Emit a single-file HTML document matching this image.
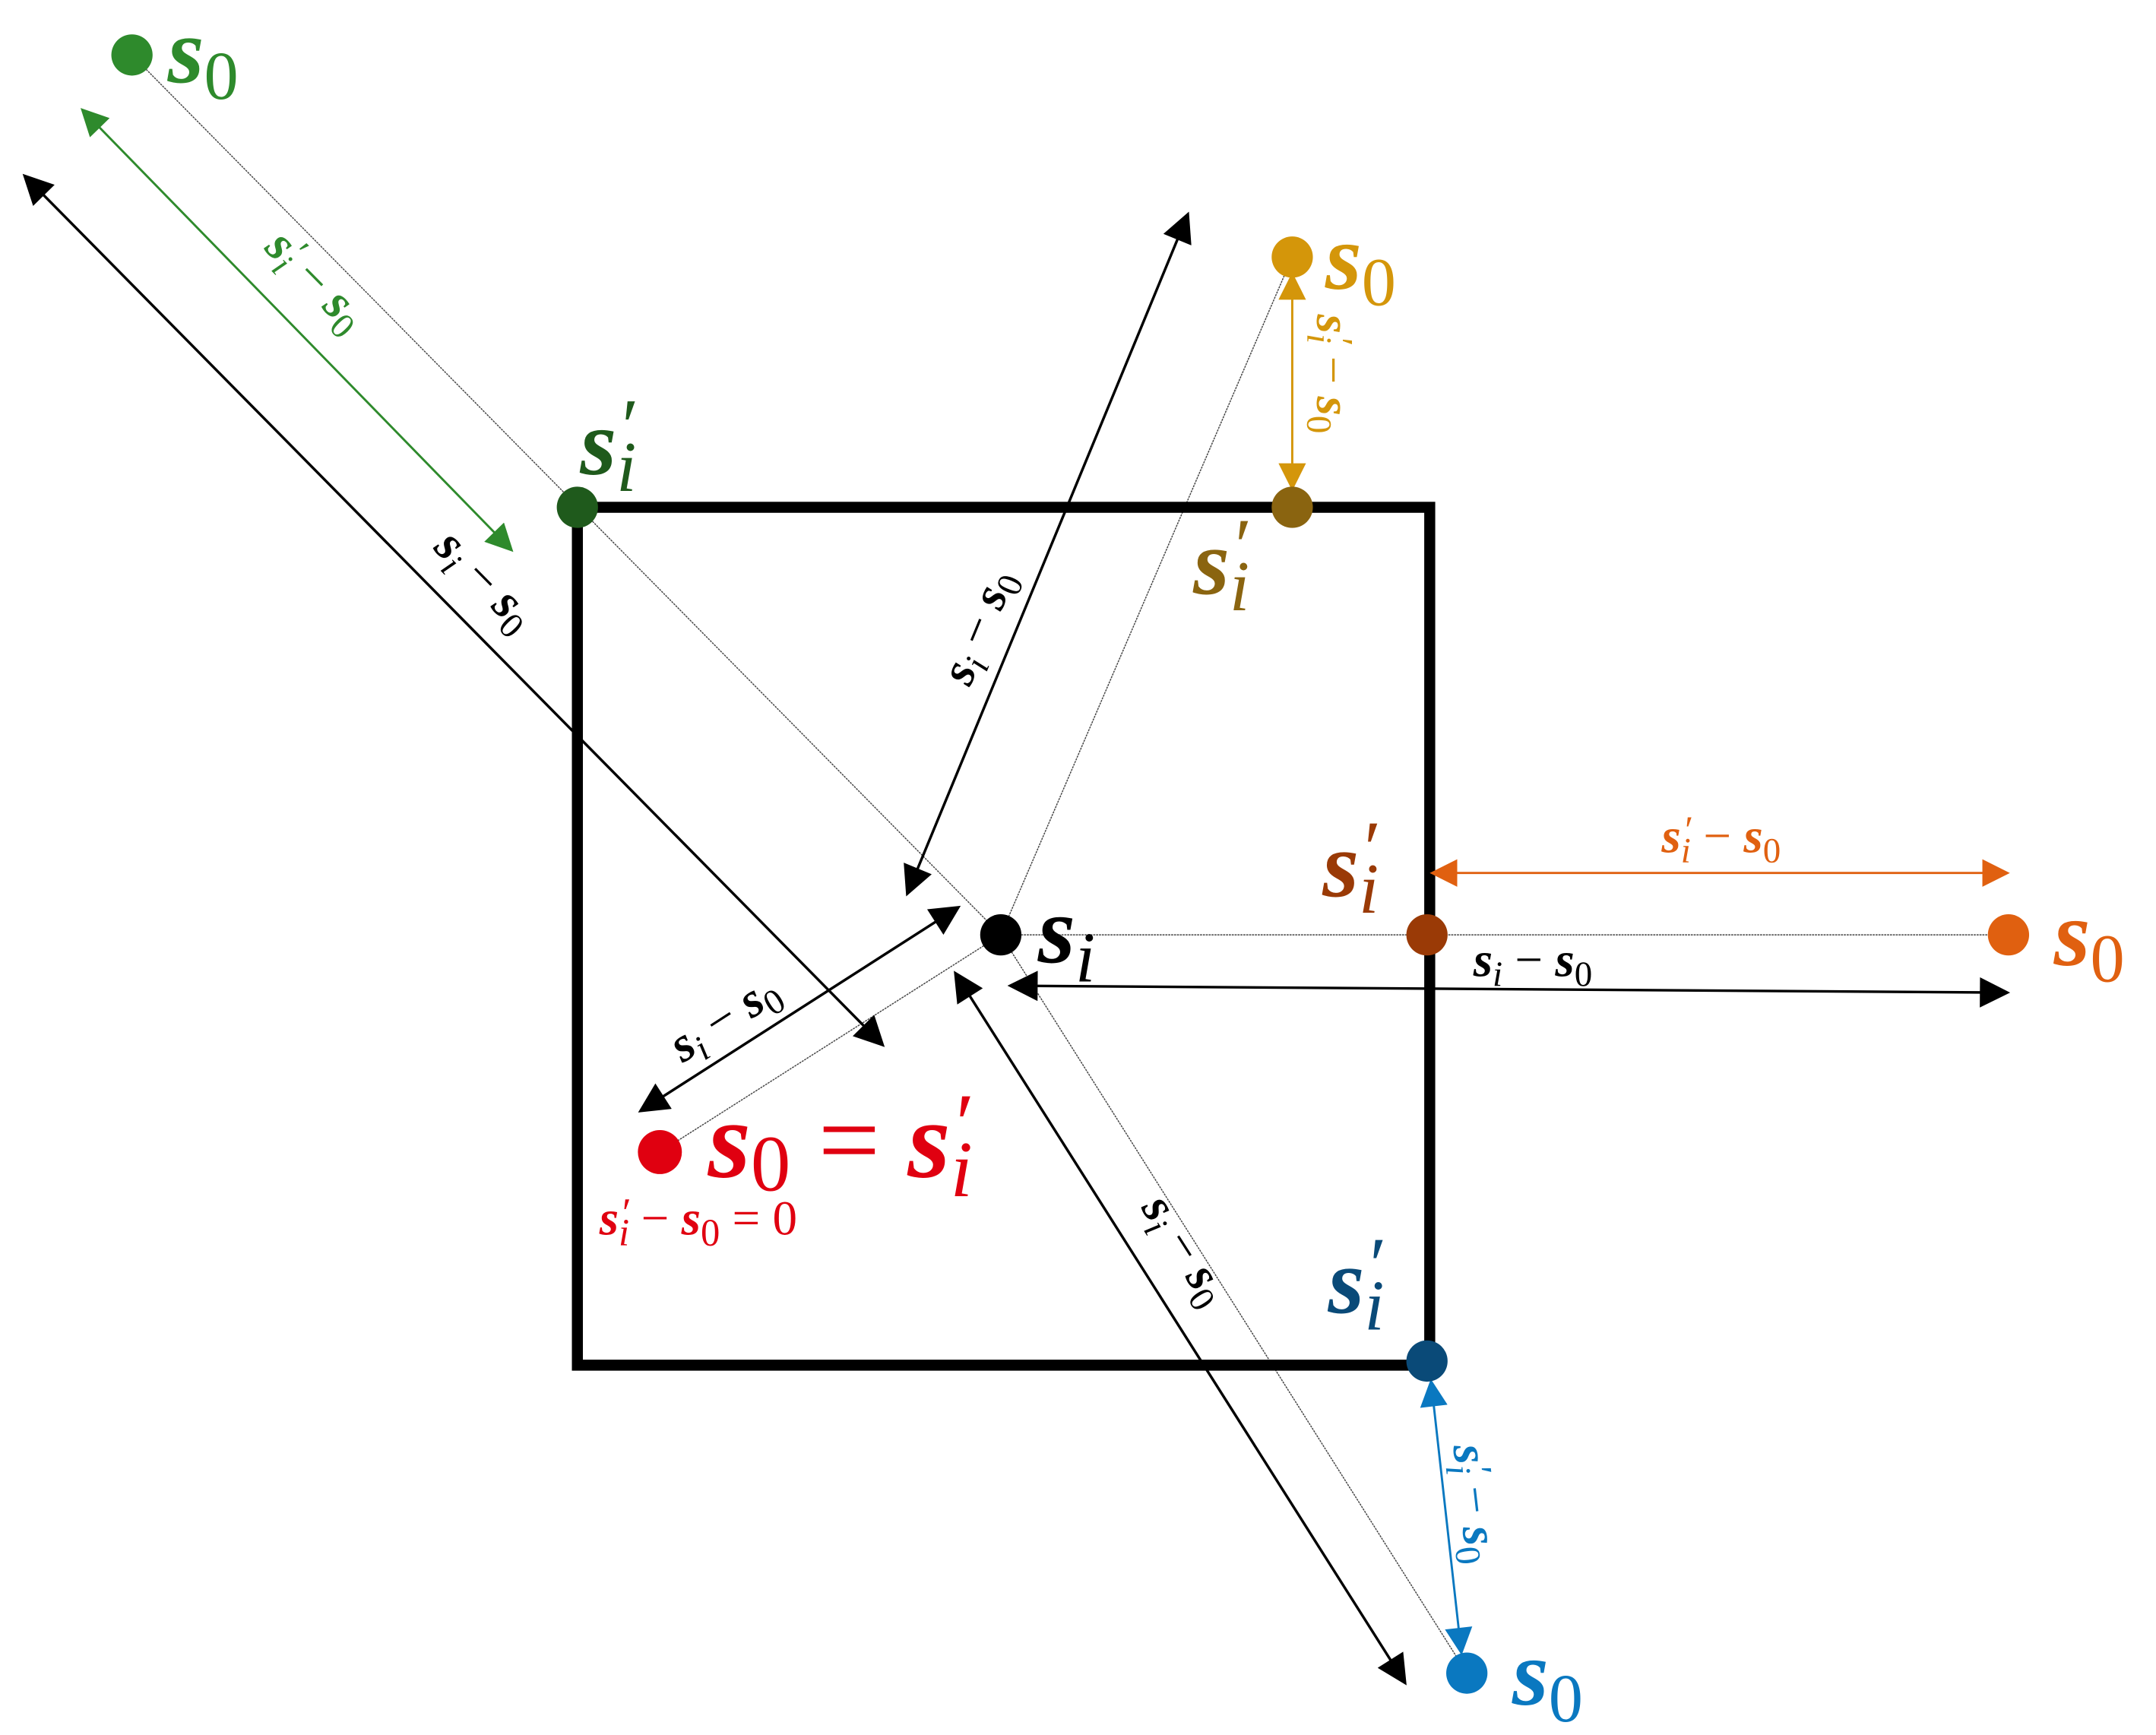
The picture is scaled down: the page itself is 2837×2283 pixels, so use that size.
<!DOCTYPE html>
<html><head><meta charset="utf-8"><style>
html,body{margin:0;padding:0;background:#fff;}
svg{display:block;}
text{font-family:"Liberation Serif",serif;}
.b{font-weight:bold;font-style:italic;}
.i{font-style:italic;}
</style></head><body>
<svg width="2837" height="2283" viewBox="0 0 1568.3 1262" preserveAspectRatio="none" xmlns="http://www.w3.org/2000/svg">
<defs>
<marker id="akb" viewBox="0 0 10 10" refX="9" refY="5" markerWidth="24" markerHeight="22" markerUnits="userSpaceOnUse" orient="auto-start-reverse"><path d="M0,0 L10,5 L0,10z" fill="#000"/></marker>
<marker id="ag" viewBox="0 0 10 10" refX="9" refY="5" markerWidth="22" markerHeight="20" markerUnits="userSpaceOnUse" orient="auto-start-reverse"><path d="M0,0 L10,5 L0,10z" fill="#2e8a2c"/></marker>
<marker id="ay" viewBox="0 0 10 10" refX="9" refY="5" markerWidth="22" markerHeight="20" markerUnits="userSpaceOnUse" orient="auto-start-reverse"><path d="M0,0 L10,5 L0,10z" fill="#d4960a"/></marker>
<marker id="ao" viewBox="0 0 10 10" refX="9" refY="5" markerWidth="22" markerHeight="20" markerUnits="userSpaceOnUse" orient="auto-start-reverse"><path d="M0,0 L10,5 L0,10z" fill="#e06010"/></marker>
<marker id="ab" viewBox="0 0 10 10" refX="9" refY="5" markerWidth="22" markerHeight="20" markerUnits="userSpaceOnUse" orient="auto-start-reverse"><path d="M0,0 L10,5 L0,10z" fill="#0a78c0"/></marker>
</defs>

<g stroke="#444" stroke-width="0.8" stroke-dasharray="1.5 0.6" fill="none">
<line x1="96" y1="40" x2="728" y2="680"/>
<line x1="940" y1="187" x2="728" y2="680"/>
<line x1="728" y1="680" x2="1460" y2="680"/>
<line x1="728" y1="680" x2="1067" y2="1217"/>
<line x1="728" y1="680" x2="480" y2="838"/>
</g>

<rect x="420" y="369" width="620" height="624" fill="none" stroke="#000" stroke-width="8"/>

<g stroke="#000" stroke-width="1.9" fill="none">
<line x1="18" y1="128" x2="642" y2="760" marker-start="url(#akb)" marker-end="url(#akb)"/>
<line x1="864" y1="156" x2="660" y2="650" marker-start="url(#akb)" marker-end="url(#akb)"/>
<line x1="735" y1="717" x2="1460" y2="722" marker-start="url(#akb)" marker-end="url(#akb)"/>
<line x1="695" y1="708" x2="1022" y2="1224" marker-start="url(#akb)" marker-end="url(#akb)"/>
<line x1="697" y1="660" x2="466" y2="808" marker-start="url(#akb)" marker-end="url(#akb)"/>
</g>

<line x1="60" y1="80" x2="372" y2="400" stroke="#2e8a2c" stroke-width="1.6" marker-start="url(#ag)" marker-end="url(#ag)"/>
<line x1="940" y1="200" x2="940" y2="355" stroke="#d4960a" stroke-width="1.6" marker-start="url(#ay)" marker-end="url(#ay)"/>
<line x1="1042" y1="635" x2="1460" y2="635" stroke="#e06010" stroke-width="1.6" marker-start="url(#ao)" marker-end="url(#ao)"/>
<line x1="1041" y1="1005" x2="1063" y2="1202" stroke="#0a78c0" stroke-width="1.6" marker-start="url(#ab)" marker-end="url(#ab)"/>

<circle cx="96" cy="40" r="15" fill="#2e8a2c"/>
<circle cx="420" cy="369" r="15" fill="#1f5a1c"/>
<circle cx="940" cy="187" r="15" fill="#d4960a"/>
<circle cx="940" cy="369" r="15" fill="#8a6410"/>
<circle cx="1461" cy="680" r="15" fill="#e06010"/>
<circle cx="1038" cy="680" r="15" fill="#9a3a06"/>
<circle cx="1067" cy="1217" r="15" fill="#0a78c0"/>
<circle cx="1038" cy="990" r="15" fill="#0a4a78"/>
<circle cx="480" cy="838" r="16" fill="#e00010"/>
<circle cx="728" cy="680" r="15" fill="#000"/>

<text x="122" y="60" font-size="68" fill="#2e8a2c"><tspan class="b">s</tspan><tspan font-size="50" dy="12">0</tspan></text>
<text x="964" y="210" font-size="68" fill="#d4960a"><tspan class="b">s</tspan><tspan font-size="50" dy="12">0</tspan></text>
<text x="1494" y="702" font-size="68" fill="#e06010"><tspan class="b">s</tspan><tspan font-size="50" dy="12">0</tspan></text>
<text x="1100" y="1240" font-size="68" fill="#0a78c0"><tspan class="b">s</tspan><tspan font-size="50" dy="12">0</tspan></text>
<text x="755" y="700" font-size="70" fill="#000"><tspan class="b">s</tspan><tspan class="i" font-size="52" dy="14">i</tspan></text>

<text x="422" y="345" font-size="68" fill="#1f5a1c"><tspan class="b">s</tspan><tspan class="i" font-size="52" dy="12">i</tspan><tspan class="i" font-size="56" dx="-14" dy="-28">′</tspan></text>
<text x="868" y="432" font-size="68" fill="#8a6410"><tspan class="b">s</tspan><tspan class="i" font-size="52" dy="12">i</tspan><tspan class="i" font-size="56" dx="-14" dy="-28">′</tspan></text>
<text x="962" y="652" font-size="68" fill="#9a3a06"><tspan class="b">s</tspan><tspan class="i" font-size="52" dy="12">i</tspan><tspan class="i" font-size="56" dx="-14" dy="-28">′</tspan></text>
<text x="966" y="955" font-size="68" fill="#0a4a78"><tspan class="b">s</tspan><tspan class="i" font-size="52" dy="12">i</tspan><tspan class="i" font-size="56" dx="-14" dy="-28">′</tspan></text>

<text x="515" y="856" font-size="80" fill="#e00010"><tspan class="b">s</tspan><tspan font-size="58" dy="10">0</tspan><tspan dy="-10"> = </tspan><tspan class="b">s</tspan><tspan class="i" font-size="58" dy="14">i</tspan><tspan class="i" font-size="62" dx="-16" dy="-32">′</tspan></text>
<text x="436" y="898" font-size="36" fill="#e00010"><tspan class="b">s</tspan><tspan class="i" font-size="28" dy="8">i</tspan><tspan class="i" font-size="30" dx="-7" dy="-14">′</tspan><tspan dy="6"> − </tspan><tspan class="b">s</tspan><tspan font-size="28" dy="8">0</tspan><tspan dy="-8"> = 0</tspan></text>

<g font-size="36">
<text transform="translate(222,212) rotate(45.4)" text-anchor="middle" fill="#2e8a2c"><tspan class="b">s</tspan><tspan class="i" font-size="26" dy="7">i</tspan><tspan class="i" font-size="28" dx="-6" dy="-14">′</tspan><tspan dy="7"> − </tspan><tspan class="b">s</tspan><tspan font-size="26" dy="7">0</tspan></text>
<text transform="translate(345,430) rotate(45.4)" text-anchor="middle" fill="#000"><tspan class="b">s</tspan><tspan class="i" font-size="26" dy="7">i</tspan><tspan dy="-7"> − </tspan><tspan class="b">s</tspan><tspan font-size="26" dy="7">0</tspan></text>
<text transform="translate(722,460) rotate(-67.6)" text-anchor="middle" fill="#000"><tspan class="b">s</tspan><tspan class="i" font-size="26" dy="7">i</tspan><tspan dy="-7"> − </tspan><tspan class="b">s</tspan><tspan font-size="26" dy="7">0</tspan></text>
<text transform="translate(958,272) rotate(90)" text-anchor="middle" fill="#d4960a"><tspan class="b">s</tspan><tspan class="i" font-size="26" dy="7">i</tspan><tspan class="i" font-size="28" dx="-6" dy="-14">′</tspan><tspan dy="7"> − </tspan><tspan class="b">s</tspan><tspan font-size="26" dy="7">0</tspan></text>
<text x="1252" y="620" text-anchor="middle" fill="#e06010"><tspan class="b">s</tspan><tspan class="i" font-size="26" dy="7">i</tspan><tspan class="i" font-size="28" dx="-6" dy="-14">′</tspan><tspan dy="7"> − </tspan><tspan class="b">s</tspan><tspan font-size="26" dy="7">0</tspan></text>
<text x="1115" y="710" text-anchor="middle" fill="#000"><tspan class="b">s</tspan><tspan class="i" font-size="26" dy="7">i</tspan><tspan dy="-7"> − </tspan><tspan class="b">s</tspan><tspan font-size="26" dy="7">0</tspan></text>
<text transform="translate(1062,1095) rotate(83.5)" text-anchor="middle" fill="#0a78c0"><tspan class="b">s</tspan><tspan class="i" font-size="26" dy="7">i</tspan><tspan class="i" font-size="28" dx="-6" dy="-14">′</tspan><tspan dy="7"> − </tspan><tspan class="b">s</tspan><tspan font-size="26" dy="7">0</tspan></text>
<text transform="translate(853,915) rotate(57.4)" text-anchor="middle" fill="#000"><tspan class="b">s</tspan><tspan class="i" font-size="26" dy="7">i</tspan><tspan dy="-7"> − </tspan><tspan class="b">s</tspan><tspan font-size="26" dy="7">0</tspan></text>
<text transform="translate(533,750) rotate(-32.8)" text-anchor="middle" fill="#000"><tspan class="b">s</tspan><tspan class="i" font-size="26" dy="7">i</tspan><tspan dy="-7"> − </tspan><tspan class="b">s</tspan><tspan font-size="26" dy="7">0</tspan></text>
</g>
</svg>
</body></html>
